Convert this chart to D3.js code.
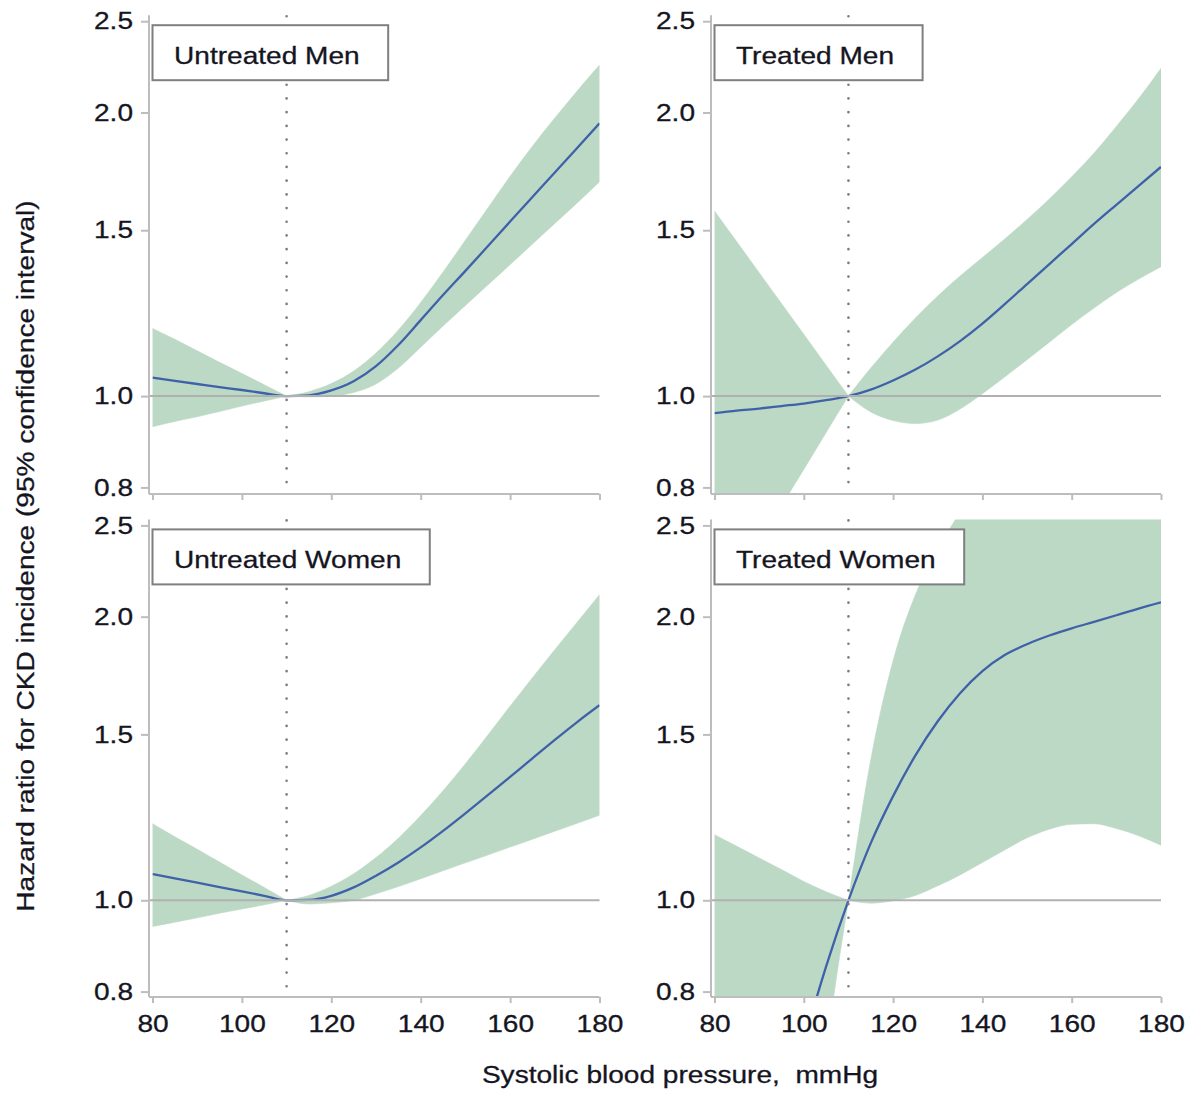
<!DOCTYPE html>
<html><head><meta charset="utf-8">
<script src="https://cdn.jsdelivr.net/npm/d3@7"></script>
<style>
body{margin:0;background:#fff}
svg{display:block}
text{font-family:"Liberation Sans",Arial,sans-serif;fill:#15151f}
</style>
</head><body>
<svg id="c" width="1190" height="1093"></svg>
<script>
// ---------- data ----------
const sbp = [80,85,90,95,100,105,110,115,120,125,130,135,140,145,150,155,160,165,170,175,180];
const panelLabels = ["Untreated Men","Treated Men","Untreated Women","Treated Women"];
const yTicks = [0.8,1.0,1.5,2.0,2.5];
const xTicks = [80,100,120,140,160,180];
const refSBP = 110;
const xTitle = "Systolic blood pressure,  mmHg";
const yTitle = "Hazard ratio for CKD incidence (95% confidence interval)";

const umHR = [1.046,1.038,1.030,1.022,1.015,1.007,1.000,1.002,1.014,1.037,1.076,1.133,1.204,1.280,1.358,1.442,1.532,1.627,1.727,1.834,1.948];
const umLo = [0.928,0.940,0.951,0.963,0.976,0.988,1.000,0.998,1.000,1.009,1.030,1.071,1.127,1.187,1.248,1.312,1.379,1.450,1.525,1.603,1.689];
const umHi = [1.180,1.149,1.117,1.086,1.057,1.028,1.000,1.011,1.031,1.063,1.111,1.175,1.257,1.354,1.464,1.583,1.711,1.842,1.973,2.108,2.246];

const tmHR = [0.959,0.965,0.970,0.976,0.982,0.990,1.000,1.016,1.039,1.067,1.102,1.144,1.194,1.252,1.315,1.381,1.450,1.523,1.596,1.672,1.751];
const tmLo = [0.585,0.640,0.700,0.765,0.836,0.915,1.000,0.962,0.942,0.935,0.943,0.969,1.006,1.048,1.093,1.141,1.191,1.240,1.288,1.331,1.372];
const tmHi = [1.572,1.458,1.352,1.254,1.163,1.078,1.000,1.071,1.141,1.210,1.277,1.341,1.403,1.468,1.540,1.619,1.709,1.811,1.933,2.069,2.228];

const uwHR = [1.066,1.055,1.044,1.033,1.022,1.011,1.000,1.001,1.011,1.032,1.062,1.097,1.138,1.185,1.237,1.293,1.352,1.415,1.480,1.546,1.611];
const uwLo = [0.938,0.948,0.958,0.969,0.979,0.989,1.000,0.991,0.994,1.000,1.016,1.034,1.054,1.075,1.096,1.117,1.139,1.161,1.184,1.207,1.231];
const uwHi = [1.206,1.168,1.133,1.098,1.064,1.032,1.000,1.012,1.035,1.067,1.110,1.164,1.230,1.307,1.396,1.497,1.607,1.723,1.845,1.973,2.110];

const twHR = [0.309,0.380,0.469,0.577,0.707,0.851,1.000,1.150,1.290,1.425,1.549,1.659,1.751,1.821,1.870,1.910,1.944,1.975,2.007,2.040,2.071];
const twLo = [0.120,0.160,0.220,0.310,0.440,0.693,1.000,0.993,0.999,1.012,1.036,1.064,1.097,1.131,1.165,1.190,1.204,1.206,1.192,1.171,1.144];
const twHi = [1.174,1.141,1.109,1.078,1.047,1.021,1.000,1.410,1.796,2.110,2.356,2.582,2.790,3.000,3.200,3.400,3.550,3.700,3.850,3.950,4.100];

// ---------- layout ----------
const SX = 1.17, FS = 24;
const cols = [{x0:152.5, x1:599.5, ax:149}, {x0:714.5, x1:1161, ax:711}];
const rows = [{y0:487.4, y1:21.2, axY:494}, {y0:991.6, y1:525.4, axY:997}];
const panels = [
  {label:panelLabels[0], hr:umHR, lo:umLo, hi:umHi, c:0, r:0},
  {label:panelLabels[1], hr:tmHR, lo:tmLo, hi:tmHi, c:1, r:0},
  {label:panelLabels[2], hr:uwHR, lo:uwLo, hi:uwHi, c:0, r:1},
  {label:panelLabels[3], hr:twHR, lo:twLo, hi:twHi, c:1, r:1}
];
const FILL = "#bcd9c5", LINE = "#3f61a8", AXIS = "#bdbdbd", TXT = "#15151f";
const FONT = '"Liberation Sans",Arial,sans-serif';

const svg = d3.select("#c");
const idx = sbp.map((d,i)=>i);
const ri = sbp.indexOf(refSBP);
const segs = [idx.slice(0, ri+1), idx.slice(ri)];

function styleText(sel){
  sel.attr("font-size",FS).attr("fill",TXT).attr("stroke",TXT).attr("stroke-width",0.3)
     .style("font-family",FONT);
}

panels.forEach((p,pi)=>{
  const C = cols[p.c], R = rows[p.r];
  const x = d3.scaleLinear().domain([80,180]).range([C.x0, C.x1]);
  const y = d3.scaleLog().domain([0.8,2.5]).range([R.y0, R.y1]);
  const g = svg.append("g");
  const top = R.y1 - 6;

  const cid = "clip"+pi;
  svg.append("clipPath").attr("id",cid).append("rect")
    .attr("x",C.x0).attr("y",top).attr("width",C.x1-C.x0).attr("height",R.axY-top);

  const plot = g.append("g").attr("clip-path",`url(#${cid})`);
  const area = d3.area().x(i=>x(sbp[i])).y0(i=>y(p.lo[i])).y1(i=>y(p.hi[i])).curve(d3.curveMonotoneX);
  segs.forEach(s=>plot.append("path").attr("d",area(s)).attr("fill",FILL).attr("stroke",FILL).attr("stroke-width",0.6));

  // reference line HR = 1
  g.append("line").attr("x1",C.ax).attr("x2",C.x1).attr("y1",y(1)).attr("y2",y(1))
    .attr("stroke","#b0b0b0").attr("stroke-width",2);
  // dotted reference SBP
  g.append("line").attr("x1",x(refSBP)).attr("x2",x(refSBP)).attr("y1",top+1).attr("y2",R.axY)
    .attr("stroke","#7c7c7c").attr("stroke-width",2.6).attr("stroke-linecap","round")
    .attr("stroke-dasharray","0.1,13.6");

  const line = d3.line().x(i=>x(sbp[i])).y(i=>y(p.hr[i])).curve(d3.curveMonotoneX);
  plot.append("path").attr("d",line(idx)).attr("fill","none").attr("stroke",LINE).attr("stroke-width",2.3);

  // y axis
  const ya = g.append("g").attr("transform",`translate(${C.ax},0)`)
    .call(d3.axisLeft(y).tickValues(yTicks).tickFormat(d3.format(".1f")).tickSize(8).tickPadding(8));
  ya.select(".domain").remove();
  ya.selectAll(".tick line").attr("stroke",AXIS).attr("stroke-width",2);
  ya.selectAll(".tick text").attr("x",0).attr("transform",`translate(-16,0) scale(${SX},1)`).call(styleText);
  g.append("line").attr("x1",C.ax).attr("x2",C.ax).attr("y1",top).attr("y2",R.axY)
    .attr("stroke",AXIS).attr("stroke-width",2);

  // x axis
  const xa = g.append("g").attr("transform",`translate(0,${R.axY})`)
    .call(d3.axisBottom(x).tickValues(xTicks).tickSize(6).tickPadding(12));
  xa.select(".domain").remove();
  xa.selectAll(".tick line").attr("stroke",AXIS).attr("stroke-width",2);
  if (p.r === 0) xa.selectAll(".tick text").remove();
  else xa.selectAll(".tick text").attr("transform",`scale(${SX},1)`).call(styleText);
  g.append("line").attr("x1",C.ax).attr("x2",C.x1).attr("y1",R.axY).attr("y2",R.axY)
    .attr("stroke",AXIS).attr("stroke-width",2);

  // label box
  const bx = C.x0, by = R.y1 + 4;
  const box = g.append("rect").attr("x",bx).attr("y",by).attr("height",55)
    .attr("fill","#fff").attr("stroke","#7f7f7f").attr("stroke-width",2);
  const t = g.append("text").attr("transform",`translate(${bx+21.5},${by+38.5}) scale(${SX},1)`)
    .text(p.label).call(styleText);
  const tw = t.node().getComputedTextLength()*SX;
  box.attr("width",tw+50);
});

// axis titles
svg.append("text").attr("transform",`translate(680,1083) scale(${SX},1)`)
  .attr("text-anchor","middle").style("white-space","pre").text(xTitle).call(styleText);
svg.append("text").attr("transform",`translate(34,556) rotate(-90) scale(${SX},1)`)
  .attr("text-anchor","middle").text(yTitle).call(styleText);
</script>
</body></html>
